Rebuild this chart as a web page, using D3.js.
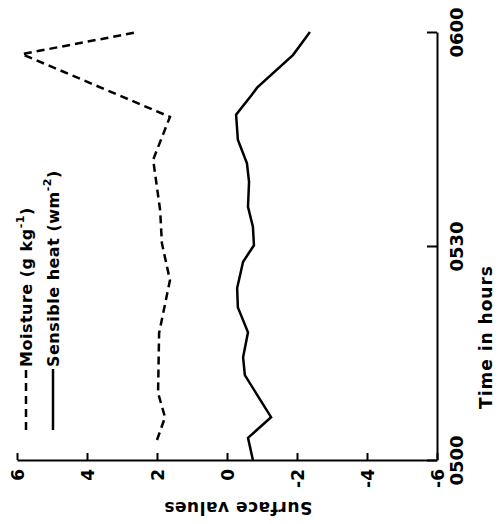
<!DOCTYPE html>
<meta charset="utf-8">
<title>Surface values</title>
<body style="margin:0;background:#fff">
<script src="https://d3js.org/d3.v7.min.js"></script>
<div id="chart"></div>
<script>

// minutes after 0500 and surface values
var moistTime = [2.8, 6.0, 9.4, 17.8, 25.2, 30.4, 35.0, 42.1, 48.1, 56.9, 60.0];
var moistVal  = [2.0, 1.77, 1.97, 1.94, 1.63, 1.86, 1.91, 2.11, 1.63, 5.86, 2.54];

var heatTime = [0, 3.1, 6.0, 11.9, 14.4, 17.9, 21.4, 24.1, 27.8, 30.1, 32.7, 35.5, 39.0, 41.6, 44.9, 48.4, 51.2, 52.2, 56.8, 60];
var heatVal  = [-0.74, -0.6, -1.26, -0.51, -0.46, -0.6, -0.31, -0.29, -0.46, -0.77, -0.74, -0.6, -0.63, -0.57, -0.31, -0.26, -0.71, -0.86, -1.89, -2.37];

var valueTicks = [6, 4, 2, 0, -2, -4, -6];
var timeTicks = [0, 30, 60];
var timeLabels = ["0500", "0530", "0600"];

var W = 499, H = 524;
var font = "'DejaVu Sans', sans-serif";

var svg = d3.select("#chart")
  .append("svg")
    .attr("width", W)
    .attr("height", H);

// the chart is drawn turned on its side: values run across, time runs up
var x = d3.scaleLinear()
  .domain([6, -6])
  .range([17, 437]);

var y = d3.scaleLinear()
  .domain([0, 60])
  .range([460, 32]);

// value axis along the bottom
var bottom = svg.append("g")
  .attr("transform", "translate(0,460)")
  .call(d3.axisBottom(x).tickValues(valueTicks).tickSize(-7).tickSizeOuter(0).tickFormat(d3.format("d")));
bottom.select(".domain").attr("stroke-width", 2);
bottom.selectAll(".tick line").attr("stroke-width", 2);
bottom.selectAll(".tick text")
  .attr("y", 0).attr("dy", null)
  .attr("transform", "translate(0,9) rotate(-90)")
  .attr("text-anchor", "end")
  .attr("dominant-baseline", "central")
  .style("font", "bold 17px " + font)
  .text(function(d) { return d < 0 ? "-" + Math.abs(d) : d; });

// time axis on the right
var right = svg.append("g")
  .attr("transform", "translate(437,0)")
  .call(d3.axisRight(y).tickValues(timeTicks).tickSize(-10).tickSizeOuter(0)
    .tickFormat(function(d, i) { return timeLabels[i]; }));
right.select(".domain").attr("stroke-width", 2);
right.selectAll(".tick line").attr("stroke-width", 2);
right.selectAll(".tick text")
  .attr("x", 0).attr("dy", null)
  .attr("transform", "translate(19,0) rotate(-90)")
  .attr("text-anchor", "middle")
  .attr("dominant-baseline", "central")
  .style("font", "bold 18px " + font);

// axis titles
svg.append("text")
  .attr("transform", "translate(238,508) rotate(180)")
  .attr("text-anchor", "middle")
  .attr("dominant-baseline", "central")
  .style("font", "bold 17px " + font)
  .style("letter-spacing", "0.5px")
  .text("Surface values");

svg.append("text")
  .attr("transform", "translate(486,337) rotate(-90)")
  .attr("text-anchor", "middle")
  .attr("dominant-baseline", "central")
  .style("font", "bold 17px " + font)
  .style("letter-spacing", "1px")
  .text("Time in hours");

// the two series
var line = d3.line()
  .x(function(d) { return x(d.v); })
  .y(function(d) { return y(d.t); });

var moist = moistTime.map(function(t, i) { return {t: t, v: moistVal[i]}; });
var heat = heatTime.map(function(t, i) { return {t: t, v: heatVal[i]}; });

svg.append("path")
  .datum(moist)
  .attr("d", line)
  .attr("fill", "none")
  .attr("stroke", "#000")
  .attr("stroke-width", 2.5)
  .attr("stroke-dasharray", "8,5");

svg.append("path")
  .datum(heat)
  .attr("d", line)
  .attr("fill", "none")
  .attr("stroke", "#000")
  .attr("stroke-width", 2.5);

// legend
var legend = [
  {name: "Moisture (g kg", sup: "-1", cx: 26, dash: "8,5"},
  {name: "Sensible heat (wm", sup: "-2", cx: 53, dash: null}
];

legend.forEach(function(d) {
  svg.append("line")
    .attr("x1", d.cx).attr("x2", d.cx)
    .attr("y1", 430).attr("y2", 369)
    .attr("stroke", "#000")
    .attr("stroke-width", 2.5)
    .attr("stroke-dasharray", d.dash);
  var t = svg.append("text")
    .attr("transform", "translate(" + d.cx + ",367) rotate(-90)")
    .attr("dominant-baseline", "central")
    .style("font", "bold 16px " + font)
    .style("letter-spacing", "0.5px");
  t.append("tspan").text(d.name);
  t.append("tspan").attr("dy", -6).style("font-size", "11px").text(d.sup);
  t.append("tspan").attr("dy", 6).text(")");
});

</script>
